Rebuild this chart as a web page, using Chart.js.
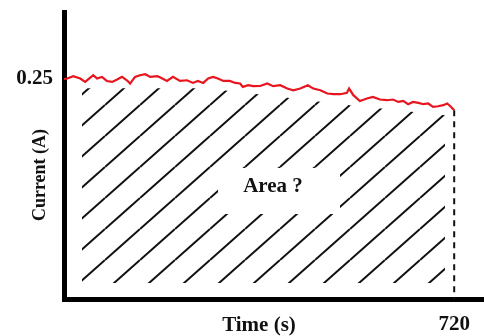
<!DOCTYPE html>
<html>
<head>
<meta charset="utf-8">
<script src="https://cdn.jsdelivr.net/npm/chart.js"></script>
<style>
  html, body { margin: 0; padding: 0; background: #fff; }
  #wrap { width: 484px; height: 336px; }
</style>
</head>
<body>
<div id="wrap"><canvas id="chart" width="484" height="336"></canvas></div>
<script>
// ===== data =====
const times = [0, 6, 17, 30, 39, 44, 54, 61, 70, 79, 89, 98, 107, 116, 122, 131, 140, 150, 159, 172, 177,
  190, 201, 214, 227, 238, 247, 257, 266, 275, 284, 294, 306, 316, 325, 330, 340, 349, 362,
  375, 386, 399, 412, 423, 436, 450, 460, 473, 486, 497, 510, 522, 526, 534, 546,
  559, 570, 583, 596, 607, 617, 626, 635, 644, 654, 663, 672, 681, 690, 700, 707, 713, 720];
const current = [0.2490, 0.2497, 0.2523, 0.2497, 0.2458, 0.2485, 0.2534, 0.2497, 0.2515, 0.2469, 0.2458, 0.2485, 0.2515, 0.2477, 0.2440, 0.2515, 0.2534, 0.2545, 0.2515, 0.2523, 0.2511,
  0.2469, 0.2515, 0.2469, 0.2477, 0.2447, 0.2469, 0.2447, 0.2497, 0.2515, 0.2497, 0.2469, 0.2469, 0.2447, 0.2440, 0.2402, 0.2421, 0.2410, 0.2412,
  0.2440, 0.2410, 0.2421, 0.2383, 0.2364, 0.2383, 0.2421, 0.2383, 0.2364, 0.2327, 0.2319, 0.2319, 0.2334, 0.2383, 0.2308, 0.2242,
  0.2270, 0.2288, 0.2259, 0.2251, 0.2259, 0.2232, 0.2243, 0.2206, 0.2232, 0.2221, 0.2206, 0.2214, 0.2175, 0.2183, 0.2195, 0.2214, 0.2183, 0.2138];

// hatched region (inset under the curve)
const hatchTimes = [33, 260, 375, 495, 615, 703];
const hatchTop = [0.2387, 0.2387, 0.2308, 0.2217, 0.2138, 0.2081];
const hatchBottom = 0.018;

const xTicks = [720];
const yTicks = [0.25];

const SERIF = '"Liberation Serif", "Times New Roman", serif';

function hatchPattern() {
  const w = 35, h = 31, k = h / w, c = 12;
  const cv = document.createElement('canvas');
  cv.width = w; cv.height = h;
  const g = cv.getContext('2d');
  g.strokeStyle = '#111';
  g.lineWidth = 2;
  for (let n = -1; n <= 2; n++) {
    g.beginPath();
    g.moveTo(0, c + n * h);
    g.lineTo(w, c + n * h - k * w);
    g.stroke();
  }
  return g.createPattern(cv, 'repeat');
}

const lastT = times[times.length - 1];
const lastI = current[current.length - 1];

// labels + the blank patch round "Area ?"
const labelPlugin = {
  id: 'labels',
  afterDatasetsDraw(chart) {
    const ctx = chart.ctx;
    ctx.save();
    ctx.fillStyle = '#fff';
    ctx.fillRect(218, 168, 122, 46);
    ctx.fillStyle = '#111';
    ctx.font = 'bold 21px ' + SERIF;
    ctx.textAlign = 'center';
    ctx.textBaseline = 'middle';
    ctx.fillText('Area ?', 273, 187);
    ctx.restore();
  },
  afterDraw(chart) {
    const ctx = chart.ctx;
    ctx.save();
    ctx.fillStyle = '#111';
    ctx.textAlign = 'center';
    ctx.textBaseline = 'middle';
    ctx.font = 'bold 21px ' + SERIF;
    ctx.fillText('Time (s)', 259, 326);
    ctx.translate(40, 175);
    ctx.rotate(-Math.PI / 2);
    ctx.font = 'bold 18px ' + SERIF;
    ctx.fillText('Current (A)', 0, 0);
    ctx.restore();
  }
};

new Chart(document.getElementById('chart'), {
  type: 'line',
  data: {
    datasets: [
      {
        label: 'I',
        data: times.map((t, i) => ({ x: t, y: current[i] })),
        borderColor: '#e8141e',
        borderWidth: 2.2,
        pointRadius: 0,
        tension: 0,
        fill: false
      },
      {
        label: 'drop',
        data: [{ x: lastT, y: lastI }, { x: lastT, y: 0 }],
        borderColor: '#111',
        borderWidth: 2,
        borderDash: [6, 5],
        pointRadius: 0,
        fill: false
      },
      {
        label: 'area',
        data: hatchTimes.map((t, i) => ({ x: t, y: hatchTop[i] })),
        borderWidth: 0,
        borderColor: 'rgba(0,0,0,0)',
        backgroundColor: hatchPattern(),
        pointRadius: 0,
        tension: 0,
        fill: { value: hatchBottom }
      }
    ]
  },
  options: {
    responsive: false,
    animation: false,
    layout: { padding: { top: 12, right: 0, bottom: 0, left: 0 } },
    plugins: { legend: { display: false }, tooltip: { enabled: false } },
    scales: {
      x: {
        type: 'linear',
        min: 0,
        max: 775,
        grid: { display: false, drawTicks: false },
        border: { display: true, color: '#000', width: 5 },
        afterBuildTicks: s => { s.ticks = xTicks.map(v => ({ value: v })); },
        afterFit: s => { s.height = 37; s.paddingLeft = 0; s.paddingRight = 0; },
        ticks: { color: '#111', padding: 13, maxRotation: 0, font: { family: SERIF, size: 21, weight: 'bold' } }
      },
      y: {
        min: 0,
        max: 0.325,
        grid: { display: false, drawTicks: false },
        border: { display: true, color: '#000', width: 5 },
        afterBuildTicks: s => { s.ticks = yTicks.map(v => ({ value: v })); },
        afterFit: s => { s.width = 64; s.paddingTop = 0; s.paddingBottom = 0; },
        ticks: {
          color: '#111', padding: 11,
          font: { family: SERIF, size: 21, weight: 'bold' },
          callback: v => v.toFixed(2)
        }
      }
    }
  },
  plugins: [labelPlugin]
});
</script>
</body>
</html>
